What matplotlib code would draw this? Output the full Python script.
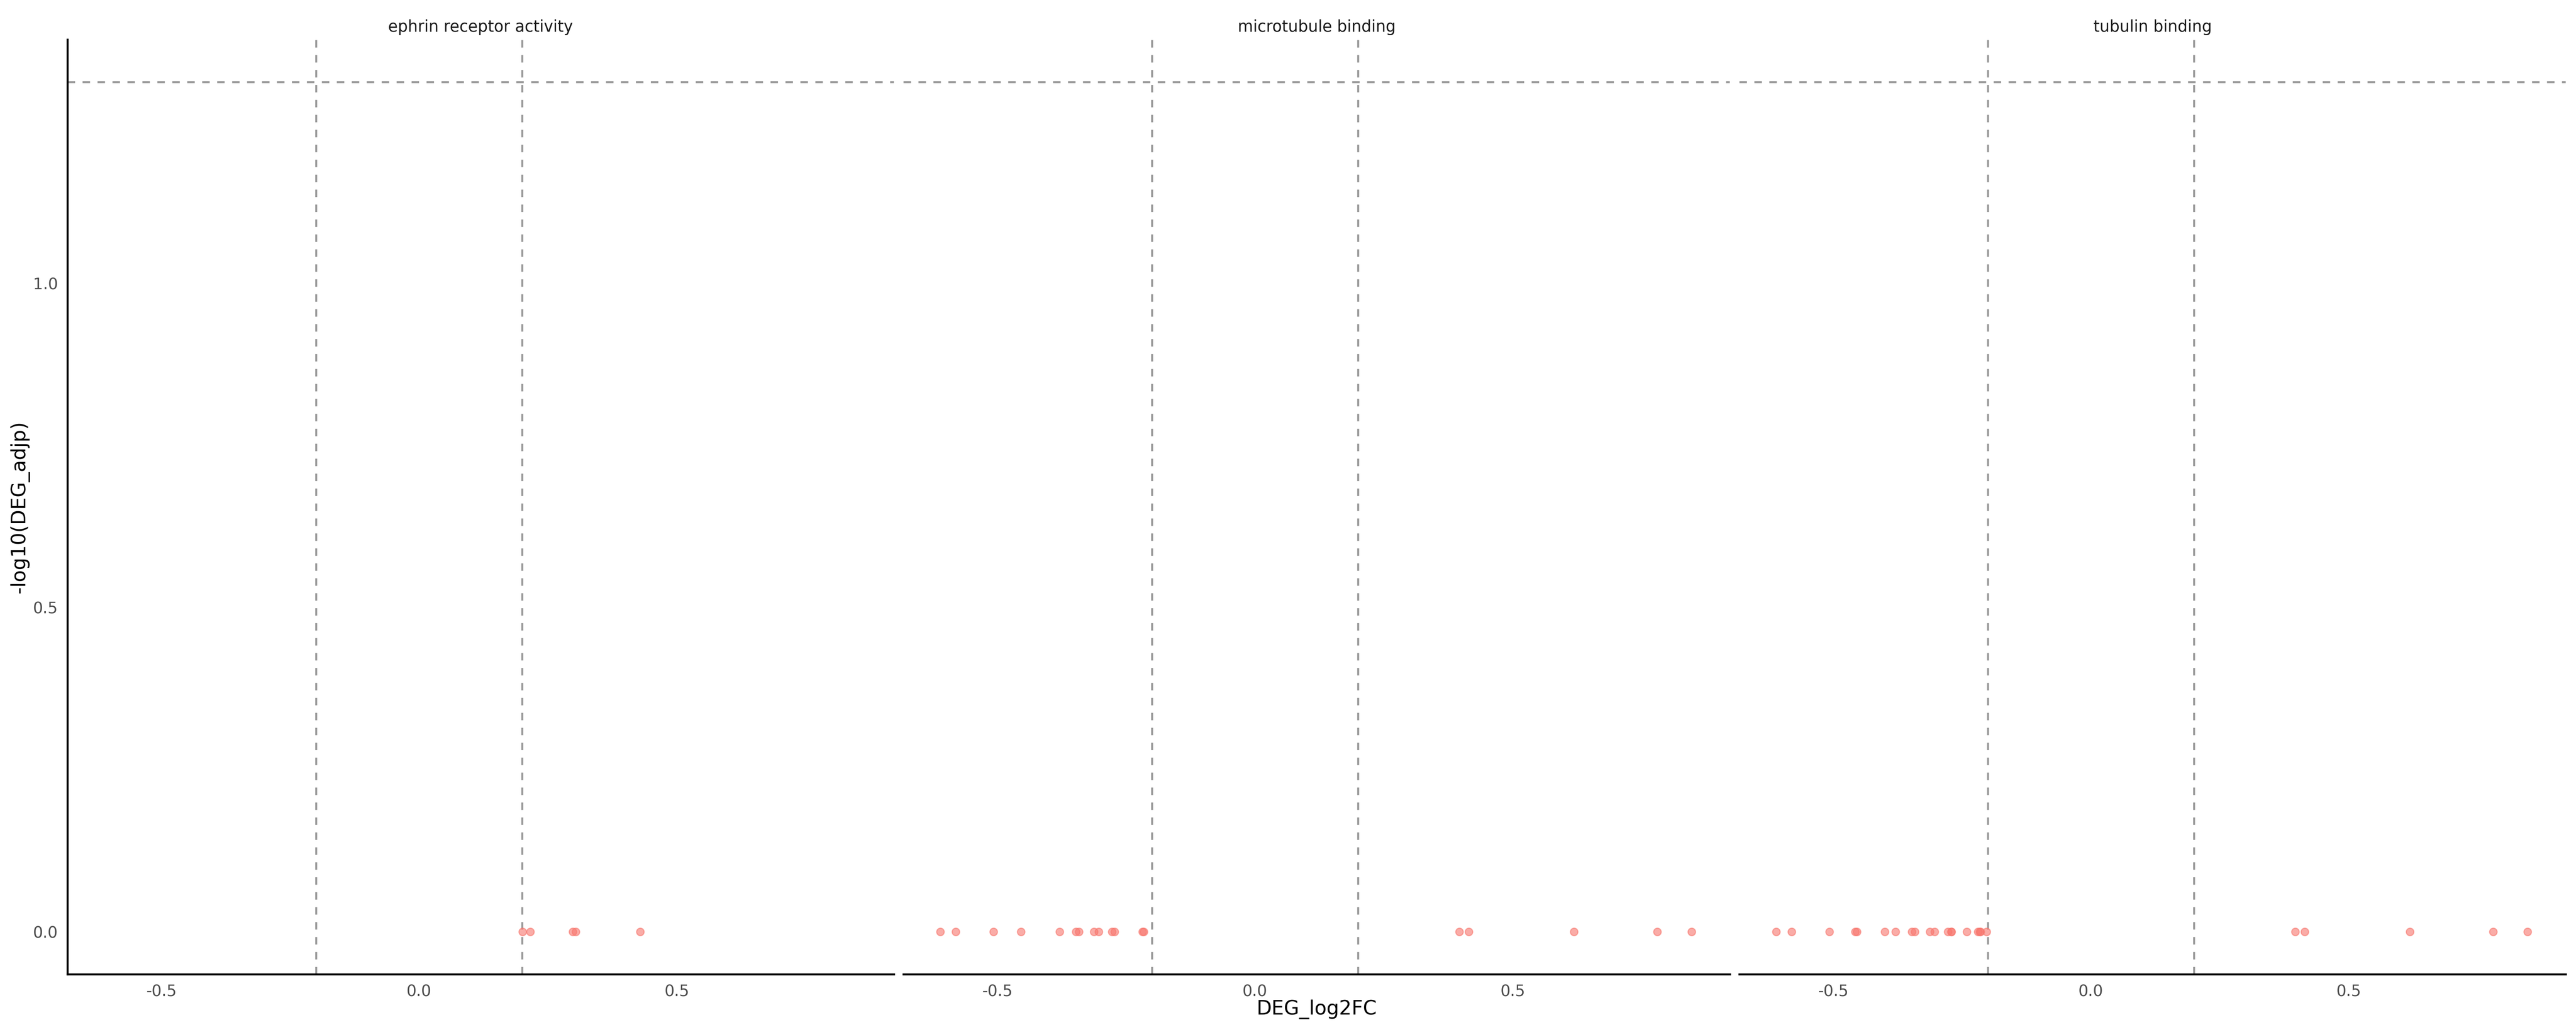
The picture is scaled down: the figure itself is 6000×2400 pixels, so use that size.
import numpy as np
import matplotlib.pyplot as plt

# facet titles
terms = ['ephrin receptor activity', 'microtubule binding', 'tubulin binding']

# log2 fold change of the genes in each term
ephrin_fc = [0.201, 0.216, 0.298, 0.304, 0.429]
microtubule_fc = [-0.610, -0.580, -0.507, -0.454, -0.379, -0.347, -0.341,
                  -0.312, -0.303, -0.277, -0.272, -0.218, -0.216,
                  0.396, 0.415, 0.619, 0.780, 0.847]
tubulin_fc = [-0.610, -0.580, -0.507, -0.457, -0.454, -0.400, -0.379,
              -0.347, -0.341, -0.312, -0.303, -0.277, -0.271, -0.271,
              -0.241, -0.219, -0.216, -0.214, -0.202,
              0.396, 0.415, 0.619, 0.780, 0.847]

# -log10 adjusted p
ephrin_p = [0.0, 0.0, 0.0, 0.0, 0.0]
microtubule_p = [0.0, 0.0, 0.0, 0.0, 0.0, 0.0, 0.0, 0.0, 0.0, 0.0, 0.0, 0.0,
                 0.0, 0.0, 0.0, 0.0, 0.0, 0.0]
tubulin_p = [0.0, 0.0, 0.0, 0.0, 0.0, 0.0, 0.0, 0.0, 0.0, 0.0, 0.0, 0.0,
             0.0, 0.0, 0.0, 0.0, 0.0, 0.0, 0.0, 0.0, 0.0, 0.0, 0.0, 0.0]

fc_cut = 0.2
p_line = 1.31

x_ticks = [-0.5, 0.0, 0.5]
y_ticks = [0.0, 0.5, 1.0]

fc_all = [ephrin_fc, microtubule_fc, tubulin_fc]
p_all = [ephrin_p, microtubule_p, tubulin_p]

W, H = 6000, 2400
fig = plt.figure(figsize=(20, 8), dpi=300)

left = 157 / W
pw = 1925 / W
gap = 22 / W
bottom = 1 - 2270 / H
ph = (2270 - 92) / H

for i in range(3):
    ax = fig.add_axes([left + i * (pw + gap), bottom, pw, ph])
    ax.axvline(-fc_cut, color='#999999', lw=1.1, ls=(0, (3.8, 3.8)), zorder=1)
    ax.axvline(fc_cut, color='#999999', lw=1.1, ls=(0, (3.8, 3.8)), zorder=1)
    ax.axhline(p_line, color='#999999', lw=1.1, ls=(0, (3.8, 3.8)), zorder=1)
    ax.plot(fc_all[i], p_all[i], 'o', ms=4.2, mfc='#F8766D', mec='#F8766D',
            mew=0.6, alpha=0.6, ls='none', zorder=3)
    ax.set_xlim(-0.682, 0.921)
    ax.set_ylim(-0.0655, 1.3755)
    ax.set_xticks(x_ticks)
    ax.set_xticklabels(['%.1f' % t for t in x_ticks])
    ax.set_yticks(y_ticks)
    ax.set_yticklabels(['%.1f' % t for t in y_ticks])
    ax.tick_params(length=0, labelsize=8.8, labelcolor='#4D4D4D', pad=5.3)
    for s in ['top', 'right']:
        ax.spines[s].set_visible(False)
    ax.spines['bottom'].set_linewidth(1.1)
    ax.spines['left'].set_linewidth(1.1)
    if i > 0:
        ax.spines['left'].set_visible(False)
        ax.tick_params(axis='y', labelleft=False)
    ax.set_title(terms[i], fontsize=8.8, color='#1A1A1A', pad=4.4)

fig.text((157 + 5977) / 2 / W, 1 - 2352 / H, 'DEG_log2FC', fontsize=11,
         ha='center', va='center')
fig.text(46 / W, bottom + ph / 2, '-log10(DEG_adjp)', fontsize=11,
         rotation=90, ha='center', va='center')

fig.savefig('out.png', dpi=300, facecolor='white')
